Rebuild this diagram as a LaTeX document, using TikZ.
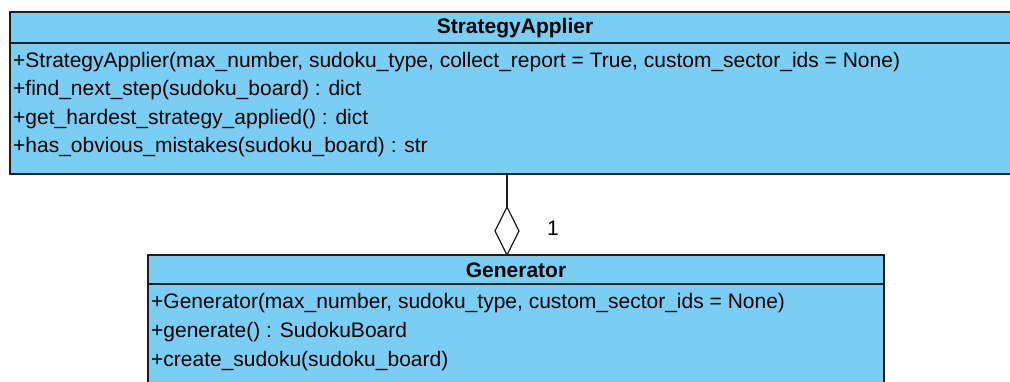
\documentclass[tikz,border=0pt]{standalone}
\usepackage{fontspec}
\setmainfont{Liberation Sans}
\usetikzlibrary{shapes.geometric}
\definecolor{umlblue}{RGB}{122,206,244}
\definecolor{umlline}{RGB}{30,30,30}
\begin{document}
\begin{tikzpicture}[x=1pt,y=-1pt,
  boxpart/.style={draw=umlline,line width=1.3pt,fill=umlblue,inner sep=0pt,outer sep=0pt},
  title/.style={font=\fontsize{21}{25}\selectfont\bfseries,anchor=center,inner sep=0pt},
  member/.style={font=\fontsize{21}{25}\selectfont,anchor=west,inner sep=0pt},
  agg/.style={draw=umlline,line width=1.3pt,fill=white,shape=diamond,minimum width=24pt,minimum height=48pt,inner sep=0pt,outer sep=0pt},
  link/.style={draw=umlline,line width=1.3pt}]
\useasboundingbox (0,0) rectangle (1010,382);
% StrategyApplier
\path[boxpart] (10,12) rectangle (1024,43);
\path[boxpart] (10,43) rectangle (1024,174);
\coordinate (saBottom) at (507,174);
\node[title] (saT) at (515,28) {StrategyApplier};
\node[member] (sa1) at (13,62) {+StrategyApplier(max\_number, sudoku\_type, collect\_report = True, custom\_sector\_ids = None)};
\node[member] (sa2) at (13,90.5) {+find\_next\_step(sudoku\_board) : dict};
\node[member] (sa3) at (13,119) {+get\_hardest\_strategy\_applied() : dict};
\node[member] (sa4) at (13,147.5) {+has\_obvious\_mistakes(sudoku\_board) : str};
% Generator
\path[boxpart] (148,255) rectangle (884,284);
\path[boxpart] (148,284) rectangle (884,392);
\coordinate (genTop) at (507,255);
\node[title] (genT) at (516,270) {Generator};
\node[member] (g1) at (151,303.5) {+Generator(max\_number, sudoku\_type, custom\_sector\_ids = None)};
\node[member] (g2) at (151,332) {+generate() : SudokuBoard};
\node[member] (g3) at (151,361) {+create\_sudoku(sudoku\_board)};
% aggregation
\node[agg,anchor=south] (dia) at (genTop) {};
\draw[link] (saBottom) -- (dia.north);
\node[font=\fontsize{21}{25}\selectfont,inner sep=0pt] (mult) at (553,228) {1};
\end{tikzpicture}
\end{document}
